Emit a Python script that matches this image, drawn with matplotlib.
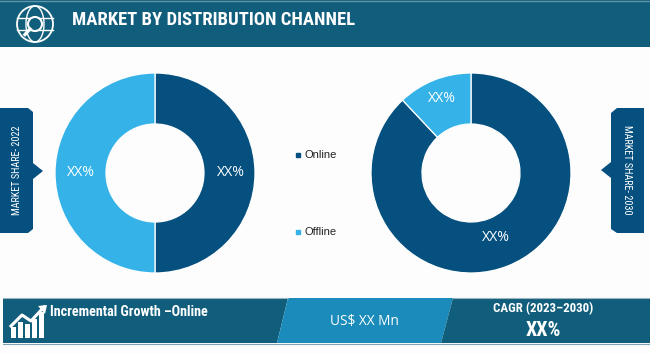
import matplotlib
matplotlib.use("Agg")
import numpy as np
import matplotlib.pyplot as plt
from matplotlib.patches import Polygon, Circle, Ellipse

W, H = 650, 354
title = "MARKET BY DISTRIBUTION CHANNEL"
categories = ["Online", "Offline"]
share_2022 = [50, 50]
share_2030 = [88, 12]
labels_2022 = ["XX%", "XX%"]
labels_2030 = ["XX%", "XX%"]

DARK = "#05507F"
LIGHT = "#35B3E8"
BAND = "#115E7C"
MID = "#1A8BBA"
NARROW = ["Roboto Condensed", "Liberation Sans Narrow", "Roboto", "DejaVu Sans"]
SANS = ["Open Sans", "DejaVu Sans"]
ARIAL = ["Liberation Sans", "DejaVu Sans"]

fig = plt.figure(figsize=(W / 100, H / 100), dpi=100, facecolor="#FDFDFD")
bg = fig.add_axes([0, 0, 1, 1])
bg.set_xlim(0, W)
bg.set_ylim(H, 0)
bg.axis("off")

def poly(pts, color, z=1, **kw):
    bg.add_patch(Polygon(pts, closed=True, facecolor=color, edgecolor="none", zorder=z, **kw))

# header
poly([(0, 0), (650, 0), (650, 47), (0, 47)], BAND)
bg.plot([0, 650], [0.7, 0.7], color="#5F93A8", lw=1)
bg.text(72, 20, title, color="white", fontsize=13.4, fontweight="bold", family=NARROW, va="center", ha="left")

# globe icon
gx, gy, gr = 35, 24, 18
bg.add_patch(Circle((gx, gy), gr, fill=False, ec="white", lw=1.3, zorder=3))
bg.add_patch(Ellipse((gx, gy), gr, 2 * gr, fill=False, ec="white", lw=1, zorder=3))
bg.plot([gx - gr, gx + gr], [gy - 6, gy - 6], color="white", lw=1, zorder=3)
bg.plot([gx - gr, gx + gr], [gy + 6, gy + 6], color="white", lw=1, zorder=3)
bg.add_patch(Circle((35, 24), 7, fc=BAND, ec="white", lw=1.5, zorder=4))
bg.plot([30, 25], [29, 34.5], color="white", lw=2.4, zorder=4)

# side tags
poly([(0, 108), (28, 108), (33, 112), (33, 163), (43, 171), (33, 179), (33, 229), (28, 233), (0, 233)], DARK)
bg.text(17, 170, "MARKET SHARE- 2022", color="white", fontsize=7.3, family=NARROW, rotation=90, ha="center", va="center", zorder=3)
poly([(644, 108), (617, 108), (611, 113), (611, 162), (601, 170), (611, 178), (611, 229), (617, 233), (644, 233)], DARK)
bg.text(627, 170, "MARKET SHARE- 2030", color="white", fontsize=7.3, family=NARROW, rotation=270, ha="center", va="center", zorder=3)

# donuts
def donut(cx, values, labels, dist):
    cy, r = 173, 100
    ax = fig.add_axes([(cx - r - 2) / W, 1 - (cy + r + 2) / H, (2 * r + 4) / W, (2 * r + 4) / H])
    wedges, _ = ax.pie(
        values, colors=[DARK, LIGHT], startangle=90, counterclock=False, radius=1,
        wedgeprops=dict(width=0.51, edgecolor="white", linewidth=0.9))
    for w, t, d in zip(wedges, labels, dist):
        ang = np.deg2rad((w.theta1 + w.theta2) / 2)
        ax.text(d * np.cos(ang), d * np.sin(ang), t, color="white", fontsize=10.2,
                family=SANS, ha="center", va="center")
    ax.set_xlim(-1.02, 1.02)
    ax.set_ylim(-1.02, 1.02)
    ax.set_aspect("equal")
    ax.patch.set_alpha(0)
    return ax

donut(155, share_2022, labels_2022, [0.76, 0.74])
donut(471, share_2030, labels_2030, [0.69, 0.80])

# legend
for y, c, t in zip([155, 232], [DARK, LIGHT], categories):
    bg.plot([298], [y], "s", color=c, ms=2.8)
    bg.text(304.5, y, t, color="#222222", fontsize=8, family=ARIAL, va="center", ha="left")

# footer
poly([(3, 298), (288, 298), (277, 343), (3, 343)], BAND)
poly([(288, 298), (453, 298), (441, 343), (277, 343)], MID)
poly([(453, 298), (650, 298), (650, 343), (441, 343)], BAND)
bg.plot([3, 288], [297.5, 297.5], color="#9DB5C0", lw=0.8)
bg.plot([453, 650], [297.5, 297.5], color="#9DB5C0", lw=0.8)
bg.plot([3, 650], [343.5, 343.5], color="#7FA3B3", lw=0.8)
bg.text(50, 312, "Incremental Growth \u2013Online", color="white", fontsize=10.2, fontweight="bold", family=NARROW, va="center", ha="left")
bg.text(364, 321, "US$ XX Mn", color="white", fontsize=9.8, family=SANS, va="center", ha="center")
bg.text(543, 309, "CAGR (2023\u20132030)", color="white", fontsize=9.3, fontweight="bold", family=NARROW, va="center", ha="center")
bg.text(543, 330, "XX%", color="white", fontsize=14.5, fontweight="bold", family=NARROW, va="center", ha="center")

# growth icon
for x, top in zip([11, 18, 25, 32, 39], [327, 322, 324, 319, 312]):
    poly([(x, top), (x + 5, top), (x + 5, 338), (x, 338)], "white", z=3)
bg.plot([11, 22, 31, 44], [326, 315, 321, 307], color="white", lw=2.2, zorder=4)
poly([(38, 306), (47, 305), (45, 314)], "white", z=4)

fig.savefig("out.png", dpi=100, facecolor=fig.get_facecolor())
